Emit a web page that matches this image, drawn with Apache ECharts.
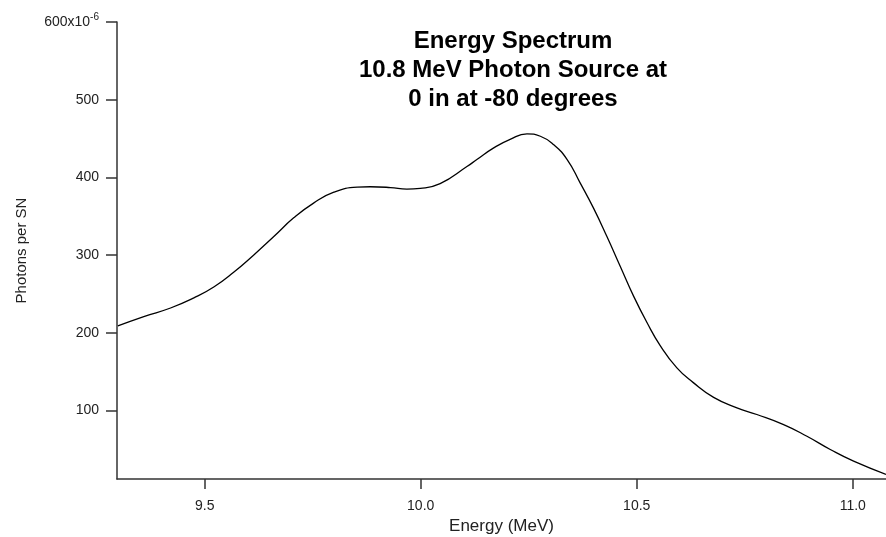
<!DOCTYPE html>
<html>
<head>
<meta charset="utf-8">
<script src="https://cdn.jsdelivr.net/npm/echarts@6/dist/echarts.min.js"></script>
<style>
	html, body { margin: 0; padding: 0; background: #fff; }
	#chart { width: 886px; height: 537px; }
</style>
</head>
<body>
<div id="chart"></div>
<script>
// energy (MeV) and photons per SN (x10^-6)
var energy = [9.299, 9.359, 9.421, 9.475, 9.521, 9.567, 9.613, 9.660, 9.706, 9.752,
	9.799, 9.853, 9.883, 9.930, 9.968, 9.999, 10.045, 10.107, 10.130, 10.169,
	10.207, 10.246, 10.277, 10.308, 10.339, 10.369, 10.400, 10.431, 10.462, 10.493,
	10.524, 10.554, 10.593, 10.631, 10.678, 10.732, 10.778, 10.840, 10.894, 10.948,
	11.002, 11.077];
var photons = [209, 221, 232, 245, 259, 278, 300, 324, 348, 367,
	381, 387.5, 388, 387, 385, 386, 392, 414, 423, 438,
	449, 456, 453, 442, 423, 393, 360.5, 324, 285.5, 247,
	213, 184, 155, 136, 117, 103.5, 95, 82, 67, 50,
	35, 18];
var xTicks = [9.5, 10.0, 10.5, 11.0];
var yTicks = [100, 200, 300, 400, 500, 600];

var points = [];
for (var i = 0; i < energy.length; i++) {
	points.push([energy[i], photons[i]]);
}

var chart = echarts.init(document.getElementById('chart'));
var font = 'Liberation Sans, Arial, sans-serif';
var option = {
	animation: false,
	backgroundColor: '#fff',
	title: {
		text: 'Energy Spectrum\n10.8 MeV Photon Source at\n0 in at -80 degrees',
		left: 508,
		top: 22,
		textAlign: 'center',
		textStyle: {
			fontFamily: font,
			fontSize: 24,
			fontWeight: 'bold',
			color: '#000',
			lineHeight: 29
		}
	},
	grid: { left: 117, top: 22, right: 0, bottom: 58, containLabel: false, outerBoundsMode: 'none' },
	xAxis: {
		type: 'value',
		min: 9.297,
		max: 11.077,
		name: 'Energy (MeV)',
		nameLocation: 'middle',
		nameGap: 36,
		nameTextStyle: { fontFamily: font, fontSize: 17, color: '#222' },
		axisLine: { lineStyle: { color: '#333', width: 1.5 } },
		axisTick: { show: true, length: 10, customValues: xTicks, lineStyle: { color: '#333', width: 1.5 } },
		axisLabel: {
			customValues: xTicks,
			margin: 20,
			fontFamily: font,
			fontSize: 14,
			color: '#222',
			formatter: function (v) { return v.toFixed(1); }
		},
		splitLine: { show: false }
	},
	yAxis: {
		type: 'value',
		min: 12,
		max: 600,
		name: 'Photons per SN',
		nameLocation: 'middle',
		nameGap: 88,
		nameRotate: 90,
		nameTextStyle: { fontFamily: font, fontSize: 15, color: '#222' },
		axisLine: { show: true, lineStyle: { color: '#333', width: 1.5 } },
		axisTick: { show: true, length: 11, customValues: yTicks, lineStyle: { color: '#333', width: 1.5 } },
		axisLabel: {
			customValues: yTicks,
			margin: 18,
			fontFamily: font,
			fontSize: 14,
			color: '#222',
			formatter: function (v) {
				return v === 600 ? '{b|600x10}{s|-6}' : String(v);
			},
			rich: {
				b: { fontFamily: font, fontSize: 14, color: '#222', lineHeight: 20 },
				s: { fontFamily: font, fontSize: 10, color: '#222', verticalAlign: 'top', lineHeight: 20, padding: [0, 0, 10, 0] }
			}
		},
		splitLine: { show: false }
	},
	series: [{
		type: 'line',
		data: points,
		smooth: 0.5,
		showSymbol: false,
		lineStyle: { color: '#000', width: 1.3 }
	}]
};
chart.setOption(option);
</script>
</body>
</html>
